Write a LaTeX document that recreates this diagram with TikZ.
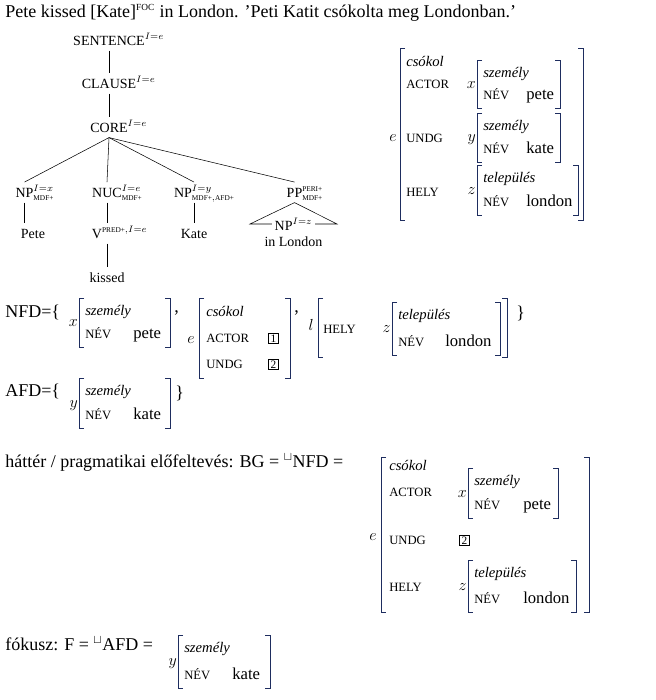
\documentclass[tikz,border=0pt]{standalone}
\usepackage{fontspec}
\setmainfont{Liberation Serif}
\usepackage{tikz}

\definecolor{avmblue}{RGB}{30,45,95}
\newcommand{\sk}[1]{{\fontsize{9.5}{11}\selectfont #1}}
\newcommand{\tn}[1]{\mbox{\fontsize{5.5}{6}\selectfont #1}}
\newcommand{\lbrk}[3]{\draw[brk] (#1+5,#2) -- (#1,#2) -- (#1,#3) -- (#1+5,#3);}
\newcommand{\rbrk}[3]{\draw[brk] (#1-5,#2) -- (#1,#2) -- (#1,#3) -- (#1-5,#3);}

\begin{document}
\begin{tikzpicture}[x=0.75pt,y=-0.75pt,
  tl/.style={font=\fontsize{10.5}{12}\selectfont, inner xsep=0pt, inner ysep=4pt,
    text height=7pt, text depth=0pt, anchor=base},
  tx/.style={inner sep=0pt, anchor=base west, font=\fontsize{13.5}{16}\selectfont},
  ty/.style={tx, font=\fontsize{11}{13}\selectfont\itshape},
  vl/.style={tx, font=\fontsize{12.5}{14}\selectfont},
  mv/.style={inner sep=0pt, anchor=base east, font=\fontsize{12.5}{14}\selectfont},
  bx/.style={draw, line width=0.5pt, inner sep=0pt, minimum size=7.5pt,
    text height=5.5pt, text depth=0pt, anchor=base west,
    font=\fontsize{8.5}{10}\selectfont},
  brk/.style={draw=avmblue, line width=0.75pt}]
  \fill[white] (0,0) rectangle (656,700);
  \useasboundingbox (0,0) rectangle (656,700);

  % example sentence
  \node[tx] (title) at (5,17) {Pete kissed [Kate]\textsuperscript{\fontsize{7}{8}\selectfont FOC} in London. ’Peti Katit csókolta meg Londonban.’};

  % tree
  \node[tl] (sent) at (109,45) {SENTENCE\rlap{$^{I=e}$}};
  \node[tl] (clause) at (109,88) {CLAUSE\rlap{$^{I=e}$}};
  \node[tl] (core) at (109,132) {CORE\rlap{$^{I=e}$}};
  \node[tl] (npx) at (24.5,197) {NP\rlap{$^{I=x}_{\tn{MDF+}}$}};
  \node[tl] (nuc) at (107,197) {NUC\rlap{$^{I=e}_{\tn{MDF+}}$}};
  \node[tl] (npy) at (183,197) {NP\rlap{$^{I=y}_{\tn{MDF+},\tn{AFD+}}$}};
  \node[tl] (pp) at (294.5,197) {PP\rlap{$^{\tn{PERI+}}_{\tn{MDF+}}$}};
  \node[tl] (pete) at (33,238) {Pete};
  \node[tl] (verb) at (97,238) {V\rlap{$^{\tn{PRED+},I=e}$}};
  \node[tl] (kissed) at (107,282) {kissed};
  \node[tl] (kate) at (194,238) {Kate};
  \draw (sent) -- (clause);
  \draw (clause) -- (core);
  \draw (core.south) -- (npx.north);
  \draw (core.south) -- (nuc.north);
  \draw (core.south) -- (npy.north -| kate.north);
  \draw (core.south) -- (pp.north);
  \draw (npx.south) -- (pete.north -| npx.south);
  \draw (nuc.south) -- (verb.north -| nuc.south);
  \draw (verb.south -| kissed.north) -- (kissed.north);
  \draw (npy.south -| kate.north) -- (kate.north);
  % roof over the PP
  \coordinate (roofl) at (250,224);
  \coordinate (roofr) at (337,224);
  \draw (pp.south) -- (roofl) -- (roofr) -- cycle;
  \node[tl, fill=white, inner xsep=2pt, inner ysep=1pt] (npz) at (293.5,230) {NP$^{I=z}$};
  \node[tl] (london) at (293.5,246) {in London};

  % semantic representation, top right
  \node[mv] (tre) at (397,141) {$e$};
  \lbrk{400}{48}{220} \rbrk{583}{48}{220}
  \node[ty] (trpred) at (406,66) {csókol};
  \node[tx] (tractor) at (406,88) {\sk{ACTOR}};
  \node[tx] (trundg) at (406,142) {\sk{UNDG}};
  \node[tx] (trhely) at (406,196) {\sk{HELY}};

  % NFD and AFD
  \node[tx] (nfd) at (5,317) {NFD=\{};
  \node[tx] (comma1) at (174,312) {,};
  \node[mv] (nfe) at (195,343) {$e$};
  \lbrk{199}{298}{378} \rbrk{290}{298}{378}
  \node[ty] (nfpred) at (206,316) {csókol};
  \node[tx] (nfactor) at (206,342) {\sk{ACTOR}};
  \node[tx] (nfundg) at (206,368) {\sk{UNDG}};
  \node[bx] (box1) at (268,342) {1};
  \node[bx] (box2) at (268,368) {2};
  \node[tx] (comma2) at (294,312) {,};
  \node[mv] (nfl) at (314,330) {$l$};
  \lbrk{318}{298}{357} \rbrk{507}{298}{357}
  \node[tx] (nfhely) at (323,333) {\sk{HELY}};
  \node[tx] (nfclose) at (516,318) {\}};
  \node[tx] (afd) at (5,396) {AFD=\{};
  \node[tx] (afclose) at (175,398) {\}};

  % background
  \node[tx] (bg) at (5,467) {háttér / pragmatikai előfeltevés: BG = $^{\sqcup}$NFD =};
  \node[mv] (bge) at (377,540) {$e$};
  \lbrk{381}{457}{612} \rbrk{589}{457}{612}
  \node[ty] (bgpred) at (389,470) {csókol};
  \node[tx] (bgactor) at (389,496) {\sk{ACTOR}};
  \node[tx] (bgundg) at (389,544) {\sk{UNDG}};
  \node[tx] (bghely) at (389,591) {\sk{HELY}};
  \node[bx] (bgbox) at (459,544) {2};

  % focus
  \node[tx] (foc) at (5,650) {fókusz: F = $^{\sqcup}$AFD =};

  % small person / place structures
  \foreach \nm/\bx/\ya/\yb/\rx/\var/\typ/\val/\vx in {
      trx/477/60/108/560/x/személy/pete/526,
      try/477/113/162/560/y/személy/kate/526,
      trz/477/165/215/578/z/település/london/526,
      nfx/79/298/347/170/x/személy/pete/133,
      nfz/392/302/355/500/z/település/london/445,
      afy/79/378/428/170/y/személy/kate/133,
      bgx/468/468/518/558/x/személy/pete/523,
      bgz/468/560/612/576/z/település/london/523,
      fy/178/635/688/270/y/személy/kate/232} {
    \lbrk{\bx}{\ya}{\yb} \rbrk{\rx}{\ya}{\yb}
    \node[mv] (\nm-var) at (\bx-1,{(\ya+\yb)/2+4}) {$\var$};
    \node[ty] (\nm-typ) at (\bx+6,\ya+17) {\typ};
    \node[tx] (\nm-nev) at (\bx+6,\yb-9) {\sk{NÉV}};
    \node[vl] (\nm-val) at (\vx,\yb-9) {\val};
  }
\end{tikzpicture}
\end{document}
